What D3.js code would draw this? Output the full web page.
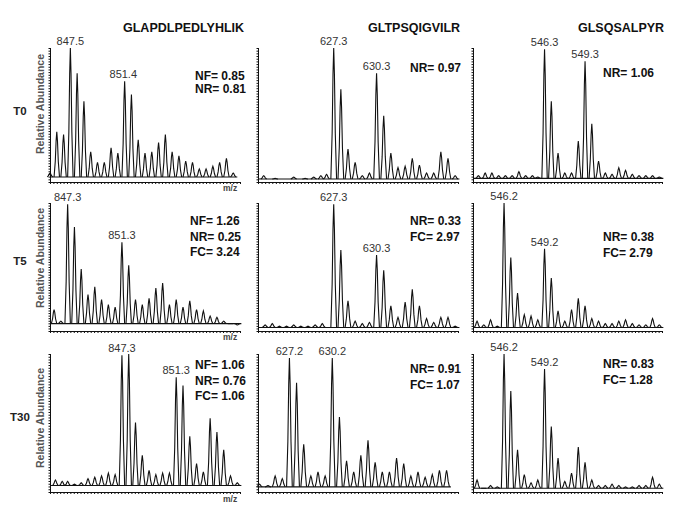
<!DOCTYPE html>
<html>
<head>
<meta charset="utf-8">
<script src="https://cdn.jsdelivr.net/npm/d3@7"></script>
<style>
  body { margin: 0; background: #fff; }
  svg { font-family: "Liberation Sans", Arial, sans-serif; }
  .axis path, .axis line { stroke: #111; }
</style>
</head>
<body>
<svg id="viz"></svg>
<script>
let width = 685;
let height = 517;

// data
let peptides = ["GLAPDLPEDLYHLIK", "GLTPSQIGVILR", "GLSQSALPYR"];
let timepoints = ["T0", "T5", "T30"];

// m/z window of each panel, row by row
let mzRanges = [
    [846, 860], [622, 636], [541, 555],
    [846, 860], [622, 636], [543.9, 557.9],
    [842, 856], [625, 639], [543.9, 557.9]
];

// noise floor (relative abundance) of each panel
let floors = [3, 1.5, 2, 5, 2, 2, 4, 3, 2];

// [m/z, relative abundance]
let t0Glap = [[846.0,6],[846.5,37],[847.0,35],[847.5,100],[848.0,81],[848.5,60],[849.0,22],[849.5,14],[850.0,14],[850.5,25],[851.0,21],[851.5,75],[852.0,65],[852.5,31],[853.0,21],[853.5,22],[854.0,29],[854.5,35],[855.0,22],[855.5,19],[856.0,15],[856.5,14],[857.0,9],[857.5,9],[858.0,11],[858.5,14],[859.0,17],[859.5,6]];
let t0Gltp = [[622.4,4],[623.2,2],[624.5,3],[625.3,2],[625.9,3],[626.4,4],[626.8,5],[627.3,100],[627.8,69],[628.3,24],[628.8,14],[629.3,4],[629.8,6],[630.3,81],[630.8,49],[631.3,21],[631.8,10],[632.3,11],[632.8,17],[633.3,12],[633.8,6],[634.3,6],[634.8,22],[635.3,17],[635.8,4]];
let t0Glsq = [[541.4,4],[541.9,6],[542.4,6],[542.9,4],[543.4,4],[543.9,4],[544.4,7],[544.9,4],[545.4,4],[545.8,3],[546.3,99],[546.8,60],[547.3,21],[547.8,6],[548.3,6],[548.8,30],[549.3,90],[549.8,43],[550.3,15],[550.8,6],[551.3,5],[551.8,10],[552.3,8],[552.8,5],[553.3,4],[553.8,4],[554.3,4],[554.8,3]];

let t5Glap = [[846.3,16],[846.8,7],[847.3,99],[847.8,81],[848.3,48],[848.8,28],[849.3,34],[849.8,24],[850.3,20],[850.8,18],[851.3,69],[851.8,51],[852.3,24],[852.8,20],[853.3,25],[853.8,33],[854.3,37],[854.8,20],[855.3,24],[855.8,18],[856.3,23],[856.8,16],[857.3,15],[857.8,11],[858.3,10],[858.8,7],[859.3,5],[859.8,4]];
let t5Gltp = [[622.5,4],[623.0,5],[623.5,3],[624.0,3],[624.5,4],[625.0,3],[625.5,3],[626.0,4],[626.5,5],[627.3,99],[627.8,63],[628.3,23],[628.8,7],[629.3,5],[629.8,6],[630.3,59],[630.8,47],[631.3,19],[631.8,10],[632.3,22],[632.8,32],[633.3,19],[633.8,9],[634.3,6],[634.8,10],[635.3,10],[635.8,3]];
let t5Glsq = [[544.2,7],[544.7,4],[545.2,8],[545.7,3],[546.2,100],[546.7,57],[547.2,29],[547.7,12],[548.2,11],[548.7,8],[549.2,64],[549.7,41],[550.2,15],[550.7,7],[551.2,16],[551.7,25],[552.2,19],[552.7,9],[553.2,7],[553.7,5],[554.2,5],[554.7,7],[555.2,8],[555.7,5],[556.2,4],[556.7,4],[557.2,9],[557.7,4]];

let t30Glap = [[842.4,8],[842.9,7],[843.3,7],[843.8,5],[844.3,6],[844.8,9],[845.3,10],[845.8,11],[846.3,13],[846.8,12],[847.3,99],[847.8,100],[848.3,50],[848.8,26],[849.3,15],[849.8,12],[850.3,13],[850.8,13],[851.3,83],[851.8,77],[852.3,40],[852.8,20],[853.3,14],[853.8,53],[854.3,43],[854.8,30],[855.3,11],[855.8,6]];
let t30Gltp = [[625.1,5],[625.7,4],[626.2,11],[626.7,9],[627.2,97],[627.7,79],[628.2,34],[628.7,11],[629.2,14],[629.7,11],[630.2,97],[630.7,54],[631.2,22],[631.7,14],[632.2,26],[632.7,37],[633.2,21],[633.7,14],[634.2,14],[634.7,24],[635.2,20],[635.7,11],[636.2,14],[636.7,10],[637.2,12],[637.7,15],[638.2,15]];
let t30Glsq = [[544.2,8],[544.7,2],[545.2,4],[545.7,3],[546.2,100],[546.7,73],[547.2,30],[547.7,12],[548.2,6],[548.7,8],[549.2,89],[549.7,47],[550.2,24],[550.7,7],[551.2,13],[551.7,32],[552.2,21],[552.7,8],[553.2,4],[553.7,4],[554.2,5],[554.7,4],[555.2,3],[555.7,3],[556.2,4],[556.7,4],[557.2,10],[557.7,5]];

let spectra = [t0Glap, t0Gltp, t0Glsq, t5Glap, t5Gltp, t5Glsq, t30Glap, t30Gltp, t30Glsq];

// peak labels (m/z) per panel
let peakLabels = [
    ["847.5", "851.4"], ["627.3", "630.3"], ["546.3", "549.3"],
    ["847.3", "851.3"], ["627.3", "630.3"], ["546.2", "549.2"],
    ["847.3", "851.3"], ["627.2", "630.2"], ["546.2", "549.2"]
];

let ratios = [
    ["NF= 0.85", "NR= 0.81"], ["NR= 0.97"], ["NR= 1.06"],
    ["NF= 1.26", "NR= 0.25", "FC= 3.24"], ["NR= 0.33", "FC= 2.97"], ["NR= 0.38", "FC= 2.79"],
    ["NF= 1.06", "NR= 0.76", "FC= 1.06"], ["NR= 0.91", "FC= 1.07"], ["NR= 0.83", "FC= 1.28"]
];

// layout
let colX = [[50, 240], [258, 458], [473, 662]];
let rowY = [[48, 182], [203, 331], [354, 492]];
let headerX = [123, 368, 578];
let ratioPos = [[195, 80, 13.3], [410, 72, 15.5], [603, 77, 15.5],
                [190, 225, 15.5], [410, 225, 15.5], [603, 241, 15.5],
                [195, 369, 15.7], [410, 373, 15.5], [603, 368, 15.7]];
let tLabelY = [115, 265, 421];
let relAbY = [104, 258, 418];
let mzLabelY = [191, 340, 502];

let svg = d3.select("#viz")
    .attr("width", width)
    .attr("height", height);

svg.selectAll("text.header")
    .data(peptides)
    .enter().append("text")
    .attr("class", "header")
    .attr("x", (d, i) => headerX[i])
    .attr("y", 32)
    .attr("font-size", 12.5)
    .attr("font-weight", "bold")
    .attr("fill", "#111")
    .text(d => d);

timepoints.forEach(function(tp, r) {
    svg.append("text")
        .attr("x", 20)
        .attr("y", tLabelY[r])
        .attr("text-anchor", "middle")
        .attr("font-size", 11.5)
        .attr("font-weight", "bold")
        .attr("fill", "#222")
        .text(tp);

    svg.append("text")
        .attr("transform", "translate(44," + relAbY[r] + ") rotate(-90)")
        .attr("text-anchor", "middle")
        .attr("font-size", 10.5)
        .attr("font-weight", "bold")
        .attr("fill", "#555")
        .text("Relative Abundance");

    svg.append("text")
        .attr("x", 223)
        .attr("y", mzLabelY[r])
        .attr("font-size", 8.5)
        .attr("font-weight", "bold")
        .attr("fill", "#444")
        .text("m/z");
});

let peakLine = d3.line();

spectra.forEach(function(peaks, p) {
    let r = Math.floor(p / 3), c = p % 3;
    let dom = mzRanges[p];
    let floor = floors[p];

    let x = d3.scaleLinear().domain(dom).range(colX[c]);
    let y = d3.scaleLinear().domain([0, 100]).range([rowY[r][1] - 1, rowY[r][0]]);

    let g = svg.append("g");

    // baseline noise
    g.append("path")
        .attr("d", peakLine([[x(dom[0]), y(floor)], [x(peaks[peaks.length - 1][0] + 0.3), y(floor)]]))
        .attr("fill", "none")
        .attr("stroke", "#111")
        .attr("stroke-width", 1.1);

    // one profile peak per entry
    g.selectAll("path.peak")
        .data(peaks)
        .enter().append("path")
        .attr("class", "peak")
        .attr("fill", "none")
        .attr("stroke", "#111")
        .attr("stroke-width", 1.1)
        .attr("d", function(d) {
            let mz = d[0], h = d[1], dh = h - floor;
            return peakLine([
                [x(mz - 0.2), y(floor)],
                [x(mz - 0.11), y(floor + dh * 0.35)],
                [x(mz - 0.05), y(floor + dh * 0.8)],
                [x(mz), y(h)],
                [x(mz + 0.05), y(floor + dh * 0.8)],
                [x(mz + 0.11), y(floor + dh * 0.35)],
                [x(mz + 0.2), y(floor)]
            ]);
        });

    // axes with dense minor ticks
    g.append("g")
        .attr("class", "axis")
        .attr("transform", "translate(0," + rowY[r][1] + ")")
        .call(d3.axisBottom(x)
            .tickValues(d3.range(dom[0], dom[1] + 0.01, 0.25))
            .tickSize(2).tickSizeOuter(0).tickFormat(""));

    let yAx = d3.scaleLinear().domain([0, 100]).range([rowY[r][1], rowY[r][0]]);
    g.append("g")
        .attr("class", "axis")
        .attr("transform", "translate(" + colX[c][0] + ",0)")
        .call(d3.axisLeft(yAx)
            .tickValues(d3.range(0, 101, 2))
            .tickSize(1.5).tickSizeOuter(0).tickFormat(""));
    g.append("g")
        .attr("class", "axis")
        .attr("transform", "translate(" + colX[c][0] + ",0)")
        .call(d3.axisRight(yAx)
            .tickValues(d3.range(0, 101, 2))
            .tickSize(1).tickSizeOuter(0).tickFormat(""));

    // peak labels
    g.selectAll("text.peaklab")
        .data(peakLabels[p])
        .enter().append("text")
        .attr("class", "peaklab")
        .attr("x", d => x(+d))
        .attr("y", function(d) {
            let near = peaks.filter(pk => Math.abs(pk[0] - (+d)) < 0.15);
            return y(d3.max(near, pk => pk[1])) - 3;
        })
        .attr("text-anchor", "middle")
        .attr("font-size", 11)
        .attr("fill", "#333")
        .text(d => d);

    // NF / NR / FC
    g.selectAll("text.ratio")
        .data(ratios[p])
        .enter().append("text")
        .attr("class", "ratio")
        .attr("x", ratioPos[p][0])
        .attr("y", (d, i) => ratioPos[p][1] + i * ratioPos[p][2])
        .attr("font-size", 12)
        .attr("font-weight", "bold")
        .attr("fill", "#111")
        .text(d => d);
});
</script>
</body>
</html>
